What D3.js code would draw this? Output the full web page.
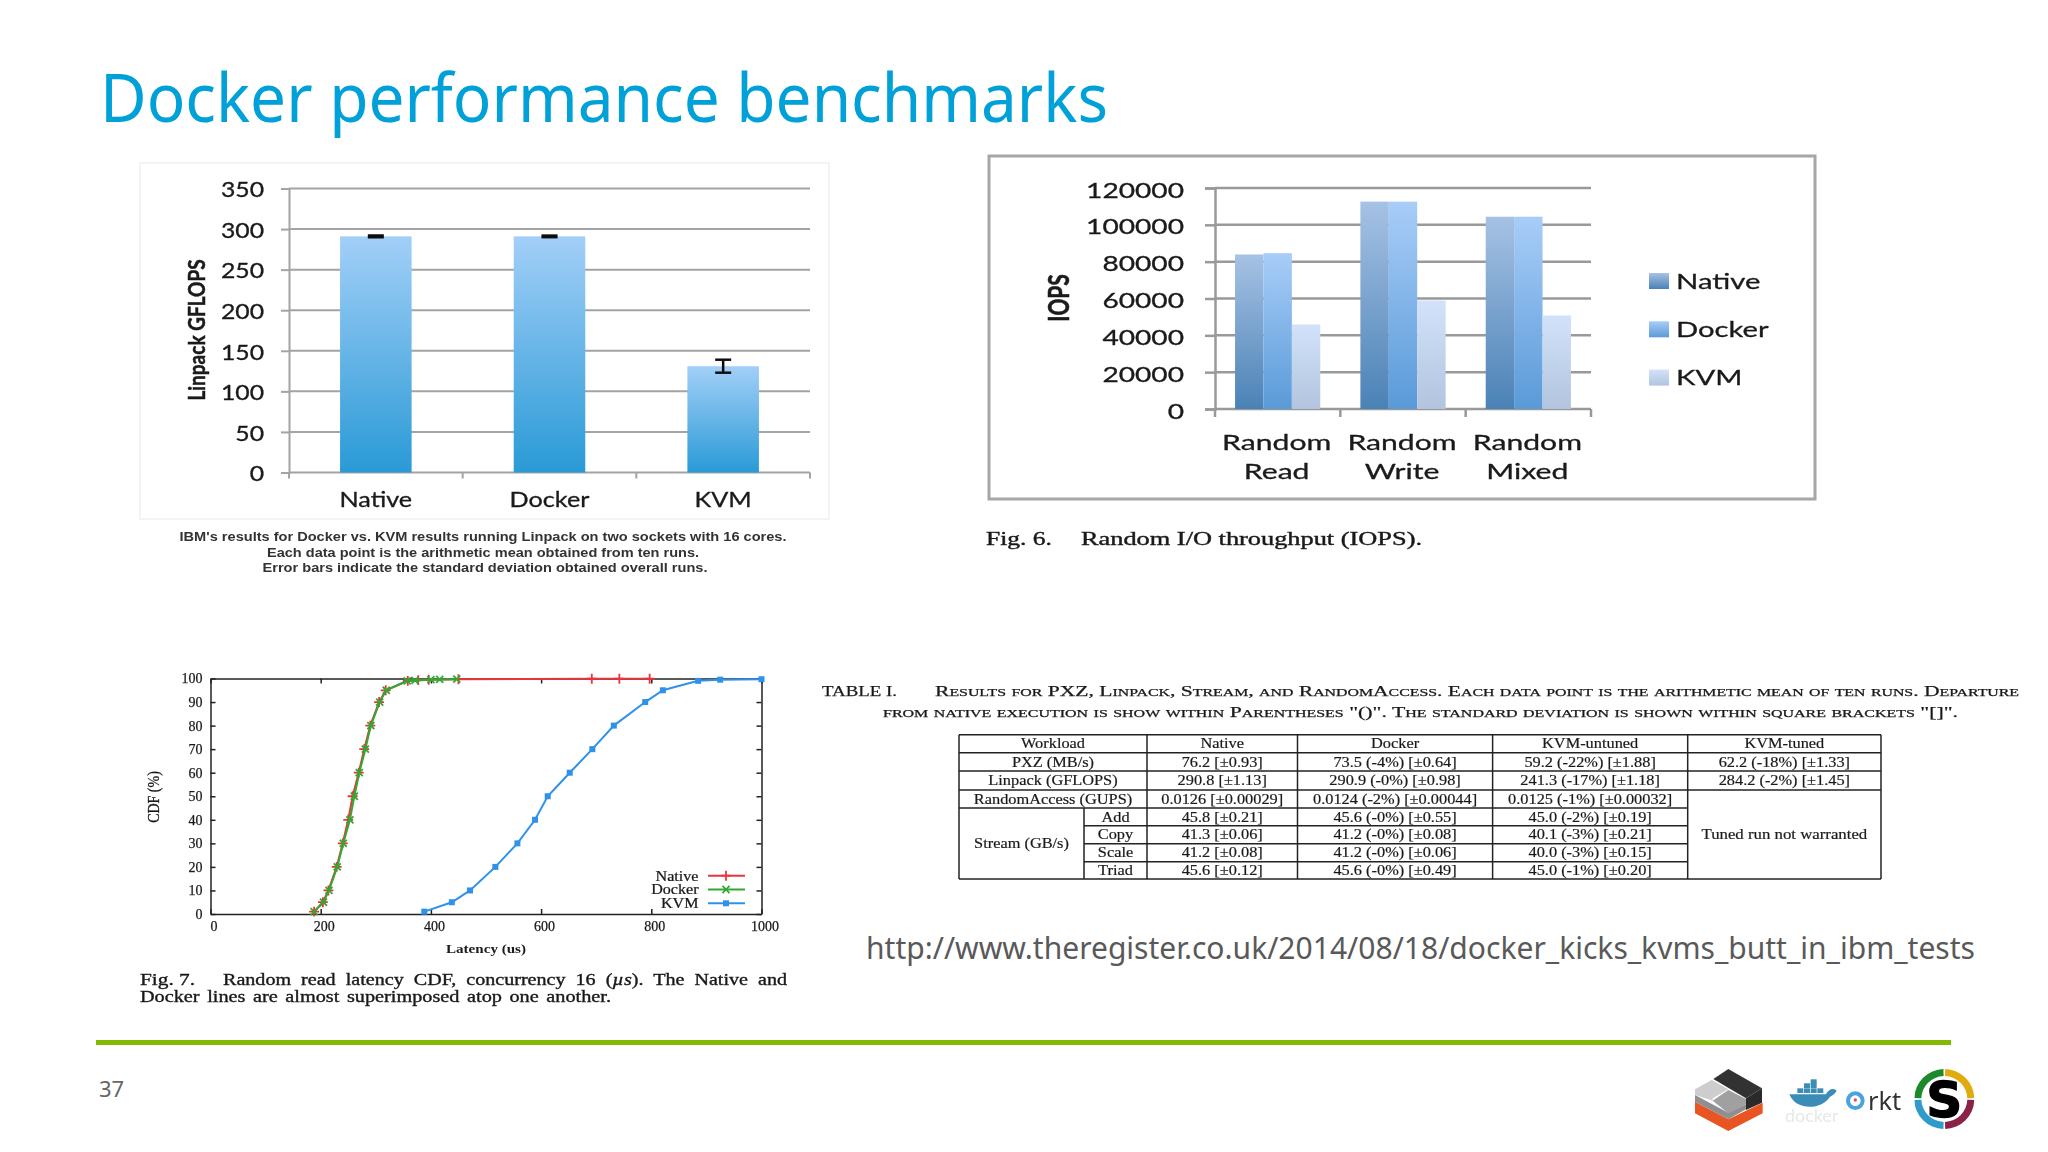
<!DOCTYPE html>
<html>
<head>
<meta charset="utf-8">
<script src="https://cdn.jsdelivr.net/npm/d3@7"></script>
<style>
  html, body { margin: 0; background: #fff; }
  svg { display: block; }
</style>
</head>
<body>
<svg id="slide" width="2048" height="1152"></svg>
<script>
// linpack bars
const linpackCats = ['Native', 'Docker', 'KVM'];
const linpackVals = [291, 291, 131];
const linpackErr = [1.1, 0.98, 8];
const linpackTicks = [0, 50, 100, 150, 200, 250, 300, 350];

// iops bars
const iopsCats = ['Random Read', 'Random Write', 'Random Mixed'];
const iopsSeries = ['Native', 'Docker', 'KVM'];
const iopsNative = [83900, 112600, 104400];
const iopsDocker = [84600, 112600, 104400];
const iopsKvm = [45900, 58900, 50800];
const iopsTicks = [0, 20000, 40000, 60000, 80000, 100000, 120000];

// latency cdf
const cdfNativeX = [188, 204, 214, 229, 240, 250, 258, 269, 279, 290, 306, 318, 358, 377, 396, 450, 692, 742, 797];
const cdfNativeY = [1, 5, 10, 20, 30, 40, 50, 60, 70, 80, 90, 95, 99, 99.3, 99.5, 99.7, 99.9, 99.9, 99.9];
const cdfDockerX = [188, 205, 215, 230, 241, 253, 261, 270, 281, 291, 307, 319, 357, 371, 400, 416, 447];
const cdfDockerY = [1, 5, 10, 20, 30, 40, 50, 60, 70, 80, 90, 95, 99, 99.2, 99.5, 99.6, 99.7];
const cdfKvmX = [388, 438, 471, 517, 557, 589, 612, 652, 693, 732, 789, 821, 885, 925, 1000];
const cdfKvmY = [1, 5, 10, 20, 30, 40, 50, 60, 70, 80, 90, 95, 99, 99.5, 99.7];

// table
const tableHeader = ['Workload', 'Native', 'Docker', 'KVM-untuned', 'KVM-tuned'];
const tableWorkloads = ['PXZ (MB/s)', 'Linpack (GFLOPS)', 'RandomAccess (GUPS)'];
const streamParts = ['Add', 'Copy', 'Scale', 'Triad'];
const nativeCol = ['76.2 [±0.93]', '290.8 [±1.13]', '0.0126 [±0.00029]', '45.8 [±0.21]', '41.3 [±0.06]', '41.2 [±0.08]', '45.6 [±0.12]'];
const dockerCol = ['73.5 (-4%) [±0.64]', '290.9 (-0%) [±0.98]', '0.0124 (-2%) [±0.00044]', '45.6 (-0%) [±0.55]', '41.2 (-0%) [±0.08]', '41.2 (-0%) [±0.06]', '45.6 (-0%) [±0.49]'];
const kvmCol = ['59.2 (-22%) [±1.88]', '241.3 (-17%) [±1.18]', '0.0125 (-1%) [±0.00032]', '45.0 (-2%) [±0.19]', '40.1 (-3%) [±0.21]', '40.0 (-3%) [±0.15]', '45.0 (-1%) [±0.20]'];
const tunedCol = ['62.2 (-18%) [±1.33]', '284.2 (-2%) [±1.45]'];

const svg = d3.select('#slide');
const defs = svg.append('defs');
defs.append('filter').attr('id', 'soft').append('feGaussianBlur').attr('stdDeviation', 0.55);

function gradient(id, top, bottom) {
  const g = defs.append('linearGradient').attr('id', id).attr('x1', 0).attr('x2', 0).attr('y1', 0).attr('y2', 1);
  g.append('stop').attr('offset', '0%').attr('stop-color', top);
  g.append('stop').attr('offset', '100%').attr('stop-color', bottom);
}
gradient('gLinpack', '#a2cff8', '#2a9ad6');
gradient('gNative', '#a6c2e4', '#4a82b6');
gradient('gDocker', '#a8cdf8', '#5a9ad8');
gradient('gKvm', '#d2e2fa', '#b2c4de');

// text helper: the pasted figures are stretched sideways, so sx widens the glyphs
function label(parent, s, x, y, o = {}) {
  const fill = o.fill || '#1a1a1a';
  const t = parent.append('text')
    .attr('transform', `translate(${x},${y}) scale(${o.sx || 1},1)` + (o.rot ? ` rotate(${o.rot})` : ''))
    .attr('text-anchor', o.anchor || 'middle')
    .attr('dy', o.dy === undefined ? '0.35em' : o.dy)
    .attr('font-family', o.family || 'Liberation Serif')
    .attr('font-size', o.size || 14)
    .attr('font-weight', o.weight || 'normal')
    .attr('fill', fill)
    .text(s);
  if (o.len) t.attr('textLength', o.len).attr('lengthAdjust', 'spacingAndGlyphs');
  if (o.small) t.attr('font-variant', 'small-caps');
  if (o.word) t.attr('word-spacing', o.word);
  if (o.heavy) t.attr('stroke', fill).attr('stroke-width', o.heavy);
  return t;
}

// ---- slide furniture
label(svg, 'Docker performance benchmarks', 100, 122, { anchor: 'start', dy: 0, family: 'Noto Sans', size: 67, fill: '#00a1d8', len: 1008 });
svg.append('rect').attr('x', 96).attr('y', 1040).attr('width', 1855).attr('height', 5).attr('fill', '#84b902');
label(svg, '37', 99, 1089, { anchor: 'start', family: 'Noto Sans', size: 22, fill: '#666' });
label(svg, 'http://www.theregister.co.uk/2014/08/18/docker_kicks_kvms_butt_in_ibm_tests', 866, 948, { anchor: 'start', family: 'Noto Sans', size: 30, fill: '#595959', len: 1109 });

// ---- linpack chart
const lp = svg.append('g').attr('filter', 'url(#soft)');
lp.append('rect').attr('x', 140).attr('y', 163).attr('width', 689).attr('height', 356)
  .attr('fill', '#fff').attr('stroke', '#f3f3f3').attr('stroke-width', 2);
const lpLeft = 289, lpRight = 810, lpTop = 188.5, lpBottom = 472.5;
const lpX = d3.scaleBand().domain(linpackCats).range([lpLeft, lpRight]).paddingInner(0.588).paddingOuter(0.294);
const lpY = d3.scaleLinear().domain([0, 350]).range([lpBottom, lpTop]);

lp.append('g').selectAll('line').data(linpackTicks.slice(1)).join('line')
  .attr('x1', lpLeft).attr('x2', lpRight)
  .attr('y1', d => lpY(d)).attr('y2', d => lpY(d))
  .attr('stroke', '#a3a3a3').attr('stroke-width', 2);

const lpAxisY = lp.append('g').attr('transform', `translate(${lpLeft},0)`)
  .call(d3.axisLeft(lpY).tickValues(linpackTicks).tickSize(8));
lpAxisY.selectAll('path,line').attr('stroke', '#a3a3a3').attr('stroke-width', 2);
lpAxisY.selectAll('text').attr('font-family', 'Lato').attr('font-size', 21).attr('fill', '#1a1a1a')
  .attr('stroke', '#1a1a1a').attr('stroke-width', 0.3)
  .attr('transform', 'scale(1.18,1)').attr('x', -25 / 1.18).attr('y', 1.5);

const lpEdges = d3.range(linpackCats.length + 1).map(i => lpLeft + i * (lpRight - lpLeft) / linpackCats.length);
lp.append('line').attr('x1', lpLeft).attr('x2', lpRight).attr('y1', lpBottom).attr('y2', lpBottom)
  .attr('stroke', '#a3a3a3').attr('stroke-width', 2);
lp.append('g').selectAll('line').data(lpEdges).join('line')
  .attr('x1', d => d).attr('x2', d => d).attr('y1', lpBottom).attr('y2', lpBottom + 6)
  .attr('stroke', '#a3a3a3').attr('stroke-width', 2);

lp.append('g').selectAll('rect').data(linpackCats).join('rect')
  .attr('x', d => lpX(d)).attr('width', lpX.bandwidth())
  .attr('y', (d, i) => lpY(linpackVals[i]))
  .attr('height', (d, i) => lpBottom - lpY(linpackVals[i]))
  .attr('fill', 'url(#gLinpack)');

linpackCats.forEach((c, i) => {
  const cx = lpX(c) + lpX.bandwidth() / 2;
  const hi = lpY(linpackVals[i] + linpackErr[i]), lo = lpY(linpackVals[i] - linpackErr[i]);
  const err = lp.append('g').attr('stroke', '#111').attr('stroke-width', 2.5);
  err.append('line').attr('x1', cx).attr('x2', cx).attr('y1', hi).attr('y2', lo);
  err.append('line').attr('x1', cx - 8).attr('x2', cx + 8).attr('y1', hi).attr('y2', hi);
  err.append('line').attr('x1', cx - 8).attr('x2', cx + 8).attr('y1', lo).attr('y2', lo);
  label(lp, c, cx, 500, { family: 'Lato', size: 21, sx: 1.2, heavy: 0.3 });
});
label(lp, 'Linpack GFLOPS', 197, 330, { family: 'Lato', size: 19, weight: 'bold', rot: -90, sx: 1.25, heavy: 0.4 });

const lpNote = svg.append('g').attr('filter', 'url(#soft)');
label(lpNote, "IBM's results for Docker vs. KVM results running Linpack on two sockets with 16 cores.", 483, 536, { family: 'Liberation Sans', size: 13, weight: 'bold', fill: '#333', len: 607 });
label(lpNote, 'Each data point is the arithmetic mean obtained from ten runs.', 483, 552, { family: 'Liberation Sans', size: 13, weight: 'bold', fill: '#333', len: 432 });
label(lpNote, 'Error bars indicate the standard deviation obtained overall runs.', 485, 567, { family: 'Liberation Sans', size: 13, weight: 'bold', fill: '#333', len: 445 });

// ---- iops chart
const io = svg.append('g').attr('filter', 'url(#soft)');
io.append('rect').attr('x', 989).attr('y', 156).attr('width', 826).attr('height', 343)
  .attr('fill', '#fff').attr('stroke', '#a6a6a6').attr('stroke-width', 3);
const ioLeft = 1215, ioRight = 1591, ioTop = 188, ioBottom = 409;
const ioX = d3.scaleBand().domain(iopsCats).range([ioLeft, ioRight]).paddingInner(0.32).paddingOuter(0.16);
const ioS = d3.scaleBand().domain(iopsSeries).range([0, ioX.bandwidth()]);
const ioY = d3.scaleLinear().domain([0, 120000]).range([ioBottom, ioTop]);

io.append('g').selectAll('line').data(iopsTicks.slice(1)).join('line')
  .attr('x1', ioLeft).attr('x2', ioRight)
  .attr('y1', d => ioY(d)).attr('y2', d => ioY(d))
  .attr('stroke', '#999').attr('stroke-width', 2.5);

const ioAxisY = io.append('g').attr('transform', `translate(${ioLeft},0)`)
  .call(d3.axisLeft(ioY).tickValues(iopsTicks).tickSize(10).tickFormat(d3.format('d')));
ioAxisY.selectAll('path,line').attr('stroke', '#999').attr('stroke-width', 2.5);
ioAxisY.selectAll('text').attr('font-family', 'Lato').attr('font-size', 22).attr('fill', '#1a1a1a')
  .attr('stroke', '#1a1a1a').attr('stroke-width', 0.3)
  .attr('transform', 'scale(1.28,1)').attr('x', -31 / 1.28).attr('y', 2);

const ioEdges = d3.range(iopsCats.length + 1).map(i => ioLeft + i * (ioRight - ioLeft) / iopsCats.length);
io.append('line').attr('x1', ioLeft).attr('x2', ioRight).attr('y1', ioBottom).attr('y2', ioBottom)
  .attr('stroke', '#999').attr('stroke-width', 2.5);
io.append('g').selectAll('line').data(ioEdges).join('line')
  .attr('x1', d => d).attr('x2', d => d).attr('y1', ioBottom).attr('y2', ioBottom + 8)
  .attr('stroke', '#999').attr('stroke-width', 2.5);

const ioValues = [iopsNative, iopsDocker, iopsKvm];
const ioFills = ['url(#gNative)', 'url(#gDocker)', 'url(#gKvm)'];
iopsSeries.forEach((s, si) => {
  io.append('g').selectAll('rect').data(iopsCats).join('rect')
    .attr('x', d => ioX(d) + ioS(s)).attr('width', ioS.bandwidth())
    .attr('y', (d, i) => ioY(ioValues[si][i]))
    .attr('height', (d, i) => ioBottom - ioY(ioValues[si][i]))
    .attr('fill', ioFills[si]);
  const ly = 281 + si * 48.3;
  io.append('rect').attr('x', 1649).attr('y', ly - 8).attr('width', 20).attr('height', 16).attr('fill', ioFills[si]);
  label(io, s, 1676, ly, { anchor: 'start', family: 'Lato', size: 22, sx: 1.33, heavy: 0.3 });
});
iopsCats.forEach(c => {
  const cx = ioX(c) + ioX.bandwidth() / 2 - 1;
  const parts = c.split(' ');
  label(io, parts[0], cx, 442, { family: 'Lato', size: 22, sx: 1.37, heavy: 0.3 });
  label(io, parts[1], cx, 471, { family: 'Lato', size: 22, sx: 1.37, heavy: 0.3 });
});
label(io, 'IOPS', 1059, 298, { family: 'Lato', size: 21, weight: 'bold', rot: -90, sx: 1.4, heavy: 0.4 });

const ioNote = svg.append('g').attr('filter', 'url(#soft)');
label(ioNote, 'Fig. 6.', 986, 538, { anchor: 'start', size: 19, len: 66, heavy: 0.4 });
label(ioNote, 'Random I/O throughput (IOPS).', 1081, 538, { anchor: 'start', size: 19, len: 341, heavy: 0.4 });

// ---- latency cdf
const cd = svg.append('g').attr('filter', 'url(#soft)');
const cdLeft = 210.5, cdRight = 761.5, cdTop = 678.5, cdBottom = 914;
const cdX = d3.scaleLinear().domain([0, 1000]).range([cdLeft, cdRight]);
const cdY = d3.scaleLinear().domain([0, 100]).range([cdBottom, cdTop]);
const xTicks = [0, 200, 400, 600, 800, 1000];
const yTicks = d3.range(0, 101, 10);

const axes = [
  d3.axisBottom(cdX).tickValues(xTicks).tickSizeInner(-5).tickSizeOuter(0).tickPadding(7).tickFormat(d3.format('d')),
  d3.axisTop(cdX).tickValues(xTicks).tickSizeInner(-5).tickSizeOuter(0).tickFormat(''),
  d3.axisLeft(cdY).tickValues(yTicks).tickSizeInner(-5).tickSizeOuter(0).tickPadding(8),
  d3.axisRight(cdY).tickValues(yTicks).tickSizeInner(-5).tickSizeOuter(0).tickFormat('')
];
const shifts = [[0, cdBottom], [0, cdTop], [cdLeft, 0], [cdRight, 0]];
axes.forEach((a, i) => {
  const g = cd.append('g').attr('transform', `translate(${shifts[i][0]},${shifts[i][1]})`).call(a);
  g.selectAll('path,line').attr('stroke', '#222').attr('stroke-width', 1.5);
  g.selectAll('text').attr('font-family', 'Liberation Serif').attr('font-size', 14).attr('fill', '#1a1a1a')
    .attr('stroke', '#1a1a1a').attr('stroke-width', 0.25);
  if (i === 0) g.selectAll('text').attr('dx', 3);
});

const cdfLine = d3.line().x(d => cdX(d[0])).y(d => cdY(d[1]));
const cdfSeries = [
  { name: 'Native', xs: cdfNativeX, ys: cdfNativeY, color: '#e8353e', type: d3.symbolPlus },
  { name: 'Docker', xs: cdfDockerX, ys: cdfDockerY, color: '#33a833', type: d3.symbolTimes },
  { name: 'KVM', xs: cdfKvmX, ys: cdfKvmY, color: '#2f92ea', type: d3.symbolSquare }
];
cdfSeries.forEach((s, si) => {
  const pts = s.xs.map((x, i) => [x, s.ys[i]]);
  cd.append('path').attr('d', cdfLine(pts)).attr('fill', 'none').attr('stroke', s.color).attr('stroke-width', 2);
  const size = si === 2 ? 36 : 34;
  const sym = d3.symbol(s.type, size);
  cd.append('g').selectAll('path').data(pts).join('path')
    .attr('transform', d => `translate(${cdX(d[0])},${cdY(d[1])})`)
    .attr('d', sym)
    .attr('fill', si === 2 ? s.color : 'none')
    .attr('stroke', s.color).attr('stroke-width', si === 2 ? 0 : 1.8);
  const ly = 875.7 + si * 13.8;
  label(cd, s.name, 698.5, ly, { anchor: 'end', size: 14, sx: 1.15, heavy: 0.25 });
  cd.append('line').attr('x1', 708).attr('x2', 745).attr('y1', ly).attr('y2', ly).attr('stroke', s.color).attr('stroke-width', 2);
  cd.append('path').attr('transform', `translate(726,${ly})`).attr('d', sym)
    .attr('fill', si === 2 ? s.color : 'none').attr('stroke', s.color).attr('stroke-width', si === 2 ? 0 : 1.8);
});
label(cd, 'Latency (us)', 486, 948, { size: 13.5, len: 80, weight: 'bold' });
label(cd, 'CDF (%)', 153, 797, { size: 14, rot: -90, sx: 1.15, heavy: 0.25 });

const cdNote = svg.append('g').attr('filter', 'url(#soft)');
label(cdNote, 'Fig. 7.', 140, 979, { anchor: 'start', size: 16, len: 55, heavy: 0.35 });
const fig7 = label(cdNote, 'Random read latency CDF, concurrency 16 (', 223, 979, { anchor: 'start', size: 16, len: 564, word: 4, heavy: 0.35 });
fig7.append('tspan').attr('font-style', 'italic').text('µs');
fig7.append('tspan').text('). The Native and');
label(cdNote, 'Docker lines are almost superimposed atop one another.', 140, 996, { anchor: 'start', size: 16, len: 471, word: 2, heavy: 0.35 });

// ---- results table
const tb = svg.append('g').attr('filter', 'url(#soft)');
const colX = [959, 1084, 1147, 1297.5, 1492.6, 1687.7, 1881];
const rowY = [734.7, 752.7, 771, 790, 808, 825.7, 843.7, 861.7, 879];
const rule = (x1, y1, x2, y2) => tb.append('line').attr('x1', x1).attr('y1', y1).attr('x2', x2).attr('y2', y2)
  .attr('stroke', '#222').attr('stroke-width', 1.5);

[0, 1, 2, 3, 8].forEach(r => rule(colX[0], rowY[r], colX[6], rowY[r]));
rule(colX[0], rowY[4], colX[5], rowY[4]);
[5, 6, 7].forEach(r => rule(colX[1], rowY[r], colX[5], rowY[r]));
[0, 2, 3, 4, 5, 6].forEach(c => rule(colX[c], rowY[0], colX[c], rowY[8]));
rule(colX[1], rowY[4], colX[1], rowY[8]);

const cellOpts = { size: 15, sx: 1.09, heavy: 0.2 };
const mid = r => (rowY[r] + rowY[r + 1]) / 2 - 0.5;
const colMid = c => (colX[c] + colX[c + 1]) / 2;
label(tb, tableHeader[0], (colX[0] + colX[2]) / 2, mid(0), cellOpts);
tableHeader.slice(1).forEach((h, i) => label(tb, h, colMid(i + 2), mid(0), cellOpts));
tableWorkloads.forEach((w, i) => label(tb, w, (colX[0] + colX[2]) / 2, mid(i + 1), cellOpts));
label(tb, 'Stream (GB/s)', colMid(0), (rowY[4] + rowY[8]) / 2 - 1, cellOpts);
streamParts.forEach((p, i) => label(tb, p, colMid(1), mid(i + 4), cellOpts));
[nativeCol, dockerCol, kvmCol].forEach((col, c) => {
  col.forEach((v, i) => label(tb, v, colMid(c + 2), mid(i + 1), cellOpts));
});
tunedCol.forEach((v, i) => label(tb, v, colMid(5), mid(i + 1), cellOpts));
label(tb, 'Tuned run not warranted', colMid(5), (rowY[3] + rowY[8]) / 2 - 1, { size: 15, sx: 1.12, heavy: 0.2 });

label(tb, 'TABLE I.', 822, 691, { anchor: 'start', size: 15, len: 75, heavy: 0.25 });
label(tb, 'Results for PXZ, Linpack, Stream, and RandomAccess. Each data point is the arithmetic mean of ten runs. Departure', 935, 691, { anchor: 'start', size: 15, small: true, len: 1084, heavy: 0.25 });
label(tb, 'from native execution is show within Parentheses "()". The standard deviation is shown within square brackets "[]".', 883, 712, { anchor: 'start', size: 15, small: true, len: 1075, heavy: 0.25 });

// ---- logos, in zoomed pixel coordinates
const logos = svg.append('g').attr('transform', 'translate(1660,1030) scale(0.3333)').attr('filter', 'url(#soft)');
const poly = (pts, fill) => logos.append('polygon').attr('points', pts).attr('fill', fill);
poly('105,215 205,268 308,218 308,250 205,303 105,250', '#e95420');
poly('105,195 205,248 258,222 258,238 205,268 105,215', '#8f8f8f');
poly('105,178 155,150 205,178 158,205 158,212 105,195', '#cdcdcd');
poly('158,212 205,180 258,207 258,222 205,250', '#a0a0a0');
poly('160,147 205,117 306,175 258,205', '#333333');
poly('258,205 306,175 306,218 258,240', '#2a2a2a');

logos.append('path').attr('fill', '#3b8db8')
  .attr('d', 'M388,193 L498,193 C505,178 520,172 530,182 C525,192 515,198 510,200 C495,225 460,235 430,228 C405,222 395,208 388,193 Z');
[[412, 175], [432, 175], [452, 175], [472, 175], [432, 160], [452, 160], [452, 148]].forEach(p => {
  logos.append('rect').attr('x', p[0]).attr('y', p[1]).attr('width', 18).attr('height', 14).attr('fill', '#3b8db8');
});
label(logos, 'docker', 455, 258, { family: 'Lato', size: 54, fill: '#e8e8e8' });
logos.append('circle').attr('cx', 586).attr('cy', 212).attr('r', 22).attr('fill', '#fff').attr('stroke', '#4aa3df').attr('stroke-width', 12);
logos.append('circle').attr('cx', 586).attr('cy', 210).attr('r', 5).attr('fill', '#e8476a');
label(logos, 'rkt', 624, 240, { anchor: 'start', dy: 0, family: 'Noto Sans', size: 76, fill: '#333' });

const arc = d3.arc().innerRadius(69).outerRadius(90);
const sysdigColors = ['#e2ab0e', '#8a2349', '#2d9bcb', '#1f8a2c'];
sysdigColors.forEach((c, i) => {
  logos.append('path').attr('transform', 'translate(853,207)')
    .attr('d', arc({ startAngle: i * Math.PI / 2 + 0.03, endAngle: (i + 1) * Math.PI / 2 - 0.03 })).attr('fill', c);
});
label(logos, 'S', 853, 207, { family: 'DejaVu Sans', weight: 'bold', size: 150, fill: '#000', dy: '0.36em', heavy: 4 });
</script>
</body>
</html>
